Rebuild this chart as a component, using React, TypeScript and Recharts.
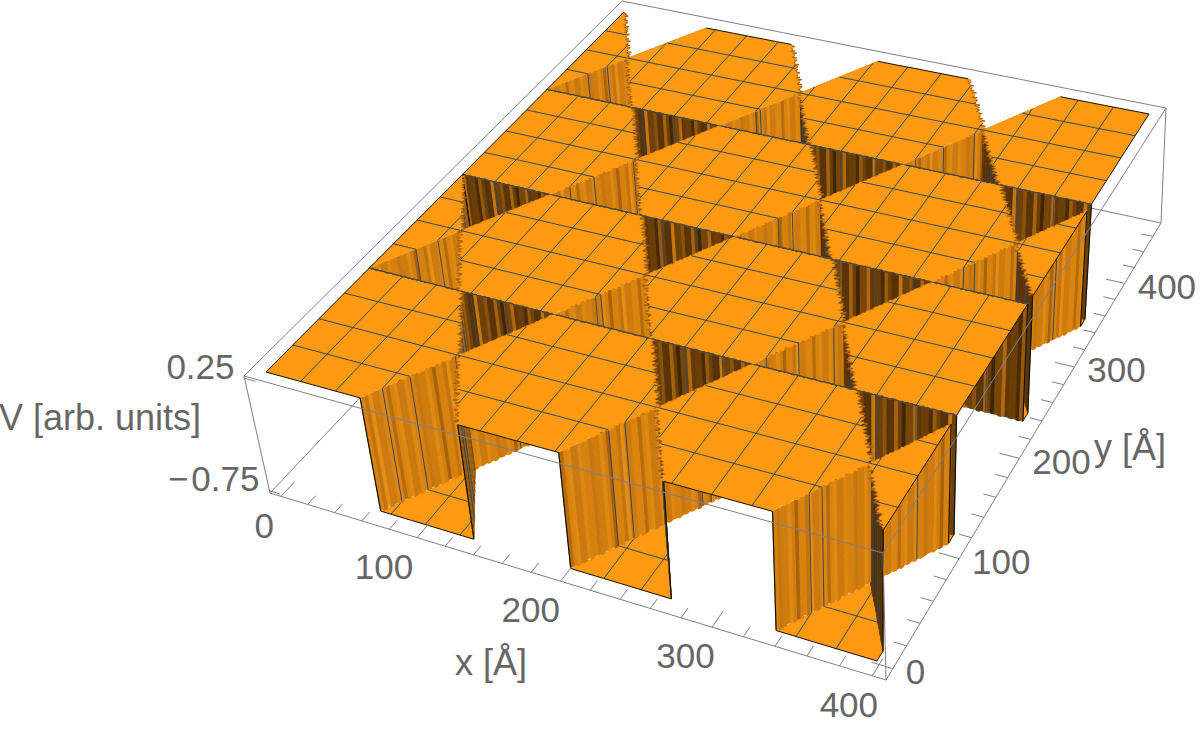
import { Scatter, ScatterChart, XAxis, YAxis } from "recharts";

type P = [number, number];
type Shape = { pts: P[]; fill?: string; stroke?: string; sw?: number };

// plan extents of the surface, in angstrom
const X_MAX = 400;
const Y_MAX = 468;
const V_TOP = 0.25;
const V_BOTTOM = -0.75;

// hexagonal plateaus: centre rows and the columns used on alternate rows
const hexRowY = [58.5, 175.5, 292.5, 409.5];
const hexColsA = [33.75, 168.75, 303.75, 438.75];
const hexColsB = [-33.75, 101.25, 236.25, 371.25];

// triangular wells: y of the flat side and the x where that side starts
const upBaseY = [0, 117, 234, 351];
const downTopY = [117, 234, 351, 468];
const wellColsA = [67.5, 202.5, 337.5];
const wellColsB = [0, 135, 270, 405];

const xMesh = [25, 50, 75, 100, 125, 150, 175, 200, 225, 250, 275, 300, 325, 350, 375];
const yMesh = [29.25, 58.5, 87.75, 117, 146.25, 175.5, 204.75, 234, 263.25, 292.5, 321.75, 351, 380.25, 409.5, 438.75];

const xTicks = [0, 20, 40, 60, 80, 100, 120, 140, 160, 180, 200, 220, 240, 260, 280, 300, 320, 340, 360, 380, 400];
const yTicks = [0, 20, 40, 60, 80, 100, 120, 140, 160, 180, 200, 220, 240, 260, 280, 300, 320, 340, 360, 380, 400, 420, 440, 460];
const xLabels = [0, 100, 200, 300, 400];
const yLabels = [0, 100, 200, 300, 400];
const vLabels = [0.25, -0.75];

const ORANGE = "#fe9a12";
const MESH = "#34495a";
const FRAME = "#808080";
const INK = "#666666";

const lightShades = ["#d5800f", "#d5800f", "#de8711", "#ca790f", "#ca790f", "#e08912", "#d8820f", "#b56b0e", "#db8410", "#db8410", "#cd7b0f", "#cd7b0f", "#e68d14", "#c1730f", "#d7810f", "#d7810f", "#a9620c", "#d27e0f", "#e08912", "#cf7c0f", "#cf7c0f", "#c47610"];
const darkShades = ["#6f4009", "#6f4009", "#8a520c", "#5a3307", "#5a3307", "#a4640e", "#6b3d08", "#3f2505", "#774509", "#774509", "#b0690e", "#603707", "#6b3d08", "#6b3d08", "#4a2a06", "#955a0c", "#6f4009", "#573207", "#573207", "#c47810"];
const sideShadesFar = ["#9a5c0e", "#b06a10", "#7d4a0c", "#c47a14", "#8a520c"];
const sideShadesNear = ["#6a3c08", "#4f2d06", "#5f3607", "#5a3307"];

// little wobble of the sampled step edges, in angstrom
const ragged = [0.6, -0.9, 1.1, -0.4, 0.8, -1.2, 0.3, -0.7, 1.0, -0.2, 0.9, -1.0, 0.4, 0.7, -0.6, 1.2, -0.8, 0.2, -1.1, 0.5, 0.9, -0.3, -0.9];

// box corners on the screen: (xlo,ylo) (xhi,ylo) (xhi,yhi) (xlo,yhi)
const frameTop: P[] = [[244, 376], [883, 553], [1166, 108], [622, 1]];
const frameBottom: P[] = [[270, 493], [886, 680], [1161, 223], [632, 110]];
// surface corners on the screen: (0,0) (400,0) (400,468) (0,468)
const surfaceTop: P[] = [[266, 372], [877, 540], [1149, 114], [624, 12]];
const surfaceFloor: P[] = [[291, 484], [877, 661], [1141, 227], [633, 120]];

const xlo = -X_MAX * 0.0208;
const xhi = X_MAX * 1.0208;
const ylo = -Y_MAX * 0.0208;
const yhi = Y_MAX * 1.0208;
const vlo = V_BOTTOM - 0.0208;
const vhi = V_TOP + 0.0208;

function homography(q: P[]) {
  const [[x0, y0], [x1, y1], [x2, y2], [x3, y3]] = q;
  const dx1 = x1 - x2, dx2 = x3 - x2, dx3 = x0 - x1 + x2 - x3;
  const dy1 = y1 - y2, dy2 = y3 - y2, dy3 = y0 - y1 + y2 - y3;
  const det = dx1 * dy2 - dx2 * dy1;
  const g = (dx3 * dy2 - dx2 * dy3) / det;
  const h = (dx1 * dy3 - dx3 * dy1) / det;
  const a = x1 - x0 + g * x1, b = x3 - x0 + h * x3;
  const d = y1 - y0 + g * y1, e = y3 - y0 + h * y3;
  return (u: number, v: number): P => {
    const w = g * u + h * v + 1;
    return [(a * u + b * v + x0) / w, (d * u + e * v + y0) / w];
  };
}
const frameTopMap = homography(frameTop);
const frameBottomMap = homography(frameBottom);
const surfaceTopMap = homography(surfaceTop);
const surfaceFloorMap = homography(surfaceFloor);

function mix(a: P, b: P, t: number): P {
  return [b[0] + (a[0] - b[0]) * t, b[1] + (a[1] - b[1]) * t];
}

function projectFrame(x: number, y: number, z: number): P {
  const u = (x - xlo) / (xhi - xlo);
  const v = (y - ylo) / (yhi - ylo);
  return mix(frameTopMap(u, v), frameBottomMap(u, v), (z - vlo) / (vhi - vlo));
}

function project(x: number, y: number, z: number): P {
  const u = x / X_MAX;
  const v = y / Y_MAX;
  return mix(surfaceTopMap(u, v), surfaceFloorMap(u, v), (z - V_BOTTOM) / (V_TOP - V_BOTTOM));
}

function clipRect(poly: P[]): P[] {
  const cut = (pts: P[], inside: (p: P) => boolean, hit: (a: P, b: P) => P) => {
    const out: P[] = [];
    pts.forEach((p, i) => {
      const q = pts[(i + 1) % pts.length];
      if (inside(p)) out.push(p);
      if (inside(p) !== inside(q)) out.push(hit(p, q));
    });
    return out;
  };
  const atX = (c: number) => (a: P, b: P): P => [c, a[1] + ((b[1] - a[1]) * (c - a[0])) / (b[0] - a[0])];
  const atY = (c: number) => (a: P, b: P): P => [a[0] + ((b[0] - a[0]) * (c - a[1])) / (b[1] - a[1]), c];
  let r = cut(poly, (p) => p[0] >= 0, atX(0));
  if (r.length) r = cut(r, (p) => p[0] <= X_MAX, atX(X_MAX));
  if (r.length) r = cut(r, (p) => p[1] >= 0, atY(0));
  if (r.length) r = cut(r, (p) => p[1] <= Y_MAX, atY(Y_MAX));
  return r;
}

function clipSegment(a: P, b: P): [P, P] | null {
  let t0 = 0, t1 = 1;
  const dx = b[0] - a[0], dy = b[1] - a[1];
  const tests: [number, number][] = [[-dx, a[0]], [dx, X_MAX - a[0]], [-dy, a[1]], [dy, Y_MAX - a[1]]];
  for (const [p, q] of tests) {
    if (p === 0) {
      if (q < 0) return null;
    } else {
      const r = q / p;
      if (p < 0) t0 = Math.max(t0, r);
      else t1 = Math.min(t1, r);
    }
  }
  if (t0 >= t1) return null;
  return [[a[0] + dx * t0, a[1] + dy * t0], [a[0] + dx * t1, a[1] + dy * t1]];
}

const onBoundary = (p: P, q: P) =>
  (p[0] === q[0] && (p[0] === 0 || p[0] === X_MAX)) || (p[1] === q[1] && (p[1] === 0 || p[1] === Y_MAX));

// an inner step edge as the sampled surface shows it: short teeth either side of the line
function toothed(p: P, q: P, amp: number, seed: number): P[] {
  const dx = q[0] - p[0], dy = q[1] - p[1];
  const len = Math.hypot(dx, dy);
  const n = Math.max(2, Math.round(len / 1.6));
  const out: P[] = [];
  for (let i = 0; i < n; i++) {
    const w = i === 0 ? 0 : ragged[(i + seed) % ragged.length] * amp;
    const t = i / n;
    out.push([p[0] + dx * t - (dy / len) * w, p[1] + dy * t + (dx / len) * w]);
  }
  return out;
}

// mesh lines and frame-side outline of one flat polygon at level z
function flatShapes(poly: P[], z: number, rough: boolean, seed: number): Shape[] {
  const out: Shape[] = [];
  const toScreen = (pts: P[]) => pts.map((p) => project(p[0], p[1], z));
  let outline: P[] = poly;
  const overlays: Shape[] = [];
  if (rough) {
    outline = poly.flatMap((p, i) => {
      const q = poly[(i + 1) % poly.length];
      if (onBoundary(p, q)) return [p];
      const dx = q[0] - p[0], dy = q[1] - p[1];
      const isFlat = Math.abs(dy) < 1e-6;
      const isSide = dx * dy < 0;
      const teeth = toothed(p, q, isFlat ? 0.7 : isSide ? 1.5 : 0.9, seed + i * 3);
      if (isSide) {
        out.push({ pts: toScreen(toothed(p, q, 2.2, seed + i * 3 + 5)), stroke: "#a8650f", sw: 1.4 });
      }
      if (isFlat) {
        overlays.push({ pts: toScreen(teeth), stroke: "#6b4008", sw: 1 });
      }
      return teeth;
    });
  }
  out.push({ pts: toScreen(outline), fill: ORANGE, stroke: ORANGE, sw: 0.3 });
  out.push(...overlays);
  const span = (axis: 0 | 1, c: number): [number, number] | null => {
    const hits: number[] = [];
    poly.forEach((p, i) => {
      const q = poly[(i + 1) % poly.length];
      if ((p[axis] - c) * (q[axis] - c) < 0 || p[axis] === c) {
        const t = q[axis] === p[axis] ? 0 : (c - p[axis]) / (q[axis] - p[axis]);
        hits.push(p[1 - axis] + (q[1 - axis] - p[1 - axis]) * t);
      }
    });
    return hits.length < 2 ? null : [Math.min(...hits), Math.max(...hits)];
  };
  const line = (a: P, b: P, stroke: string, sw: number) => {
    const pts: P[] = [];
    for (let i = 0; i <= 6; i++) pts.push(project(a[0] + ((b[0] - a[0]) * i) / 6, a[1] + ((b[1] - a[1]) * i) / 6, z));
    out.push({ pts, stroke, sw });
  };
  xMesh.forEach((c) => {
    const s = span(0, c);
    if (s) line([c, s[0]], [c, s[1]], MESH, 1);
  });
  yMesh.forEach((c) => {
    const s = span(1, c);
    if (s) line([s[0], c], [s[1], c], MESH, 1);
  });
  poly.forEach((p, i) => {
    const q = poly[(i + 1) % poly.length];
    if (onBoundary(p, q)) line(p, q, "#111111", 1);
  });
  return out;
}

function hexagon(cx: number, cy: number): P[] {
  const a = 67.5, h = 58.5;
  return [[cx - a / 2, cy - h], [cx + a / 2, cy - h], [cx + a, cy], [cx + a / 2, cy + h], [cx - a / 2, cy + h], [cx - a, cy]];
}

const plateaus: P[][] = hexRowY
  .flatMap((cy, r) => (r % 2 === 0 ? hexColsA : hexColsB).map((cx) => clipRect(hexagon(cx, cy))))
  .filter((p) => p.length > 2);

const wells: P[][] = [
  ...upBaseY.flatMap((y, r) =>
    (r % 2 === 0 ? wellColsA : wellColsB).map((x): P[] => [[x, y], [x + 67.5, y], [x + 33.75, y + 58.5]])
  ),
  ...downTopY.flatMap((y, r) =>
    (r % 2 === 0 ? wellColsA : wellColsB).map((x): P[] => [[x + 33.75, y - 58.5], [x, y], [x + 67.5, y]])
  ),
];

const floorLayer: Shape[] = wells.flatMap((w) => {
  const c = clipRect(w);
  return c.length > 2 ? flatShapes(c, V_BOTTOM, false, 0) : [];
});

type Wall = { a: P; b: P };
const walls: Wall[] = wells
  .flatMap((w) =>
    w.map((p, i) => {
      const seg = clipSegment(p, w[(i + 1) % 3]);
      return seg ? { a: seg[0], b: seg[1] } : null;
    })
  )
  .filter((s): s is Wall => !!s)
  .filter((s) => !(s.a[1] === s.b[1] && (s.a[1] === 0 || s.a[1] === Y_MAX)));

// far walls first, seen from a point well in front of the x = 400 corner
const depth = (s: Wall) => Math.hypot((s.a[0] + s.b[0]) / 2 - 420, (s.a[1] + s.b[1]) / 2 + 900);
const wallLayer: Shape[] = [...walls]
  .sort((p, q) => depth(q) - depth(p))
  .flatMap((s, idx) => {
    const out: Shape[] = [];
    const dx = s.b[0] - s.a[0], dy = s.b[1] - s.a[1];
    const flat = Math.abs(dy) < 1e-6;
    const rising = dx * dy > 0;
    const midScreenX = project((s.a[0] + s.b[0]) / 2, (s.a[1] + s.b[1]) / 2, V_TOP)[0];
    const shades = flat ? darkShades : rising ? lightShades : midScreenX > 780 ? sideShadesNear : sideShadesFar;
    const n = Math.max(2, Math.round(Math.hypot(dx, dy) / 2.4));
    const at = (t: number): P => [s.a[0] + dx * t, s.a[1] + dy * t];
    const floorZ = (i: number) => V_BOTTOM + ragged[(i + idx) % ragged.length] * 0.008;
    for (let i = 0; i < n; i++) {
      const p = at(i / n), q = at((i + 1) / n);
      const fill = shades[(i + idx * 5) % shades.length];
      out.push({
        pts: [project(p[0], p[1], V_TOP), project(q[0], q[1], V_TOP), project(q[0], q[1], floorZ(i)), project(p[0], p[1], floorZ(i))],
        fill,
        stroke: fill,
        sw: 0.9,
      });
    }
    const mark = (t: number, stroke: string, sw: number) => {
      const p = at(t);
      out.push({ pts: [project(p[0], p[1], V_TOP), project(p[0], p[1], V_BOTTOM)], stroke, sw });
    };
    if (Math.abs(dx) > 1e-6) xMesh.forEach((c) => { const t = (c - s.a[0]) / dx; if (t > 0 && t < 1) mark(t, MESH, 1); });
    if (!flat) yMesh.forEach((c) => { const t = (c - s.a[1]) / dy; if (t > 0 && t < 1) mark(t, MESH, 1); });
    const onFrame = (p: P) => p[0] === 0 || p[0] === X_MAX || p[1] === 0 || p[1] === Y_MAX;
    if (onFrame(s.a)) mark(0, "#111111", 1.2);
    if (onFrame(s.b)) mark(1, "#111111", 1.2);
    return out;
  });

const plateauLayer: Shape[] = plateaus.flatMap((p, i) => flatShapes(p, V_TOP, true, i * 4));

const edge = (a: [number, number, number], b: [number, number, number], stroke = FRAME, sw = 1): Shape => ({
  pts: [projectFrame(...a), projectFrame(...b)],
  stroke,
  sw,
});
const backFrame: Shape[] = [
  edge([xlo, ylo, vlo], [xlo, yhi, vlo]),
  edge([xlo, yhi, vlo], [xhi, yhi, vlo]),
];
const frontFrame: Shape[] = [
  edge([xlo, ylo, vhi], [xlo, yhi, vhi]),
  edge([xlo, yhi, vhi], [xhi, yhi, vhi]),
  edge([xlo, ylo, vhi], [xhi, ylo, vhi]),
  edge([xhi, ylo, vhi], [xhi, yhi, vhi]),
  edge([xlo, ylo, vhi], [xlo, ylo, vlo]),
  edge([xhi, ylo, vhi], [xhi, ylo, vlo]),
  edge([xhi, yhi, vhi], [xhi, yhi, vlo]),
  edge([xlo, ylo, vlo], [xhi, ylo, vlo]),
  edge([xhi, ylo, vlo], [xhi, yhi, vlo]),
  ...xTicks.map((t) => edge([t, ylo, vlo], [t, ylo + (t % 100 === 0 ? 15 : 9), vlo])),
  ...yTicks.map((t) => edge([xhi, t, vlo], [xhi - (t % 100 === 0 ? 13 : 8), t, vlo])),
  ...vLabels.map((t) => edge([xlo, ylo, t], [xlo + 8, ylo, t])),
];

type Label = { sx: number; sy: number; text: string; anchor: string; size: number };
const label = (p: P, dx: number, dy: number, text: string, anchor: string, size = 35): Label => ({
  sx: p[0] + dx,
  sy: p[1] + dy,
  text,
  anchor,
  size,
});
const labels: Label[] = [
  ...xLabels.map((t) => label(projectFrame(t, ylo, vlo), -7 + t * 0.032, 29, String(t), "end")),
  ...yLabels.map((t) => label(projectFrame(xhi, t, vlo), 13, 3, String(t), "start")),
  ...vLabels.map((t) => label(projectFrame(xlo, ylo, t), -10, -12, t.toFixed(2).replace("-", "\u2212\u200a"), "end")),
  label([491, 662], 0, 0, "x [Å]", "middle", 36),
  label([1130, 447], 0, 0, "y [Å]", "middle", 36),
  label([100, 417], 0, 0, "V [arb. units]", "middle", 36),
];

const noShape = () => null;

function flatten(shapes: Shape[]) {
  return shapes.flatMap((s) => s.pts.map((p) => ({ sx: p[0], sy: p[1] })));
}

// the line callback gets the scaled points back, in the order they went in
function paths(shapes: Shape[]) {
  return (props: { points?: { x: number; y: number }[] }) => {
    const pts = props.points ?? [];
    let k = 0;
    return (
      <g>
        {shapes.map((s, i) => {
          const part = pts.slice(k, k + s.pts.length);
          k += s.pts.length;
          const d = part.map((p, j) => `${j ? "L" : "M"}${p.x.toFixed(1)} ${p.y.toFixed(1)}`).join("") + (s.fill ? "Z" : "");
          return <path key={i} d={d} fill={s.fill ?? "none"} stroke={s.stroke ?? "none"} strokeWidth={s.sw ?? 1} strokeLinejoin="round" />;
        })}
      </g>
    );
  };
}

function LabelText(props: { cx?: number; cy?: number; payload?: Label }) {
  const { cx, cy, payload } = props;
  return (
    <text x={cx} y={cy} dy="0.35em" textAnchor={payload?.anchor} fontFamily="Liberation Sans" fontSize={payload?.size} fill={INK}>
      {payload?.text}
    </text>
  );
}

const layers = [backFrame, floorLayer, wallLayer, plateauLayer, frontFrame];

export default function App() {
  return (
    <div style={{ position: "absolute", left: 0, top: 0, width: 1200, height: 730, background: "#fff" }}>
      <ScatterChart width={1200} height={730} margin={{ top: 0, right: 0, bottom: 0, left: 0 }}>
        <XAxis type="number" dataKey="sx" domain={[0, 1200]} hide />
        <YAxis type="number" dataKey="sy" domain={[0, 730]} reversed hide />
        {layers.map((shapes, i) => (
          <Scatter key={i} data={flatten(shapes)} line={paths(shapes)} shape={noShape} isAnimationActive={false} />
        ))}
        <Scatter data={labels} shape={LabelText} isAnimationActive={false} />
      </ScatterChart>
    </div>
  );
}
